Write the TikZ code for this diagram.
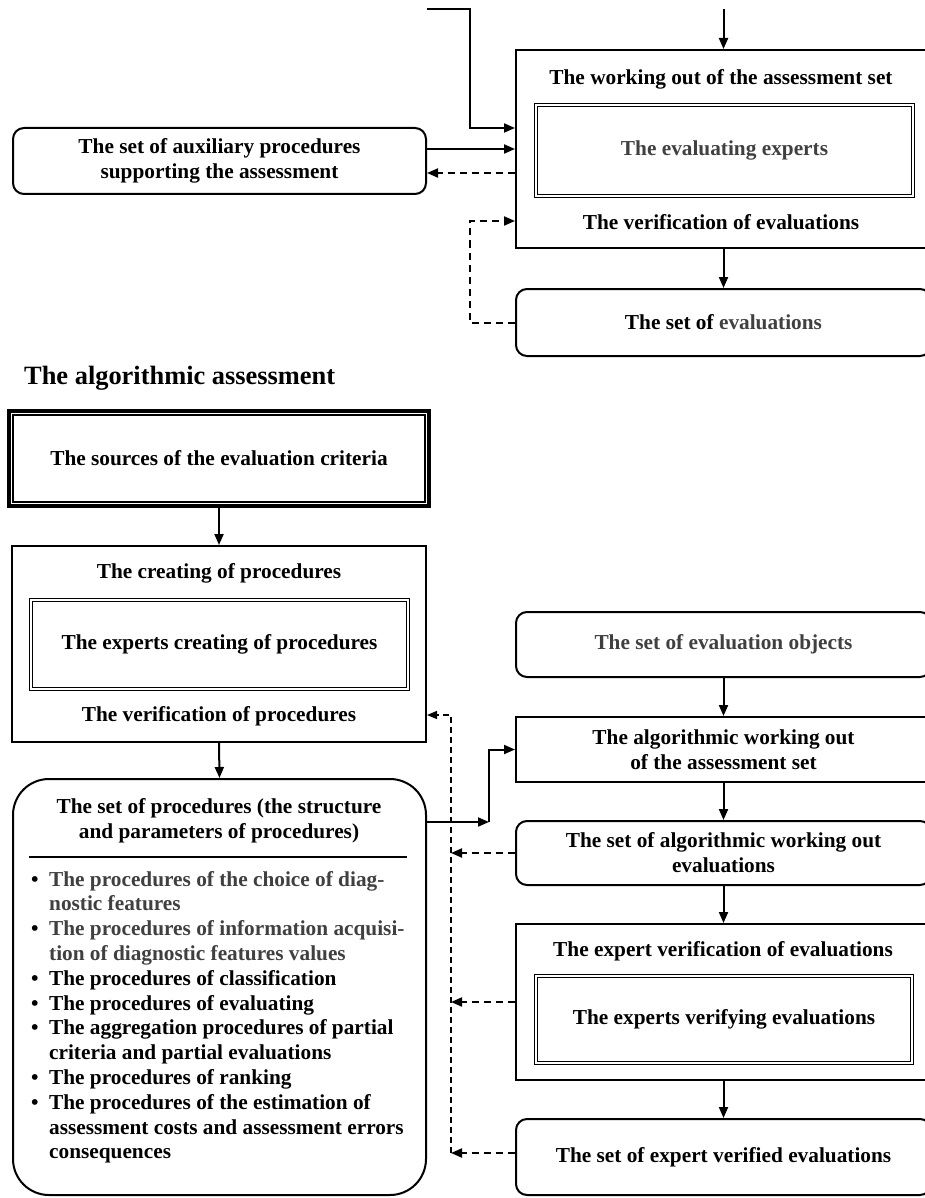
\documentclass[tikz,border=0pt]{standalone}
\usepackage{fontspec}
\setmainfont{Liberation Serif}
\usetikzlibrary{positioning,arrows.meta,calc}
\definecolor{softgray}{HTML}{404040}
\newcommand{\soft}[1]{\textcolor{softgray}{#1}}

\begin{document}
\begin{tikzpicture}[x=1pt, y=-1pt,
    every node/.style={font=\fontsize{21.3}{24.8}\selectfont\bfseries, inner sep=0pt, align=center},
    box/.style={draw, line width=2pt, minimum width=415pt},
    rbox/.style={box, rounded corners=11pt},
    expbox/.style={draw, line width=1.6pt, double, double distance=1.5pt},
    arr/.style={-{Triangle[length=11pt, width=9pt]}, line width=2pt},
    dsh/.style={arr, dash pattern=on 7pt off 5pt},
    spine/.style={-{Triangle[length=10pt, width=8pt]}, line width=1.3pt, dash pattern=on 6pt off 4pt}]
  \useasboundingbox (0,0) rectangle (925,1198);

  % Expert assessment (upper part)
  \node[box, minimum height=198pt] (workA) at (723.5,149) {};
  \node (workT) at (721,79) {The working out of the assessment set};
  \node[expbox, minimum width=377pt, minimum height=91pt, text=softgray] (evexp) at (724.5,150.5) {The evaluating experts};
  \node (workV) at (721,222) {The verification of evaluations};
  \node[rbox, minimum width=413pt, minimum height=66pt] (aux) at (219.5,161) {The set of auxiliary procedures\\supporting the assessment};
  \node[rbox, minimum height=67pt] (evals) at (723.5,322.5) {The set of \soft{evaluations}};

  % Inputs coming from above the picture
  \coordinate (feedA) at (427,9);
  \coordinate (feedB) at (723.5,9);
  \coordinate (inA) at ($(workA.west)+(0,-21)$);
  \coordinate (backA) at ($(workA.west)+(0,24)$);
  \coordinate (verA) at ($(workA.west)+(0,72)$);

  \draw[arr] (feedA) -| ($(inA)+(-45,0)$) -- (inA);
  \draw[arr] (feedB) -- (workA.north);
  \draw[arr] (aux.east |- workA.west) -- (workA.west);
  \draw[dsh] (backA) -- (aux.east |- backA);
  \draw[arr] (workA.south) -- (evals.north);
  \draw[dsh] (evals.west) -| ($(verA)+(-45,0)$) -- (verA);

  % The algorithmic assessment
  \node[anchor=west, font=\fontsize{26.4}{30}\selectfont\bfseries] (algT) at (24,378) {The algorithmic assessment};
  \node[draw, line width=4.5pt, minimum width=420pt, minimum height=95pt] (src) at (219,458.5) {The sources of the evaluation criteria};
  \draw[line width=1.6pt] ([shift={(6.5,6.5)}]src.north west) rectangle ([shift={(-6.5,-6.5)}]src.south east);

  \node[box, minimum width=414pt, minimum height=196pt] (crea) at (219,644) {};
  \node (creaT) at (219,573) {The creating of procedures};
  \node[expbox, minimum width=377pt, minimum height=89pt] (creaexp) at (219.5,644.5) {The experts creating of procedures};
  \node (creaV) at (219,716) {The verification of procedures};

  \node[box, rounded corners=36pt, minimum width=413pt, minimum height=416pt] (procs) at (219.5,987) {};
  \node (procT) at (219,820.5) {The set of procedures (the structure\\and parameters of procedures)};
  \draw[line width=1.8pt] (29,857) -- (407,857);
  \node[anchor=west] (procL) at (31,1017.5) {\begin{tabular}{@{}l@{\hspace{10.5pt}}l@{}}
    \textbullet & \soft{The procedures of the choice of diag-}\\
     & \soft{nostic features}\\
    \textbullet & \soft{The procedures of information acquisi-}\\
     & \soft{tion of diagnostic features values}\\
    \textbullet & The procedures of classification\\
    \textbullet & The procedures of evaluating\\
    \textbullet & The aggregation procedures of partial\\
     & criteria and partial evaluations\\
    \textbullet & The procedures of ranking\\
    \textbullet & The procedures of the estimation of\\
     & assessment costs and assessment errors\\
     & consequences
  \end{tabular}};

  \node[rbox, minimum height=65pt, text=softgray] (objs) at (723.5,644.5) {The set of evaluation objects};
  \node[box, minimum height=65pt] (algo) at (723.5,749.5) {The algorithmic working out\\of the assessment set};
  \node[rbox, minimum height=64pt] (algset) at (723.5,853) {The set of algorithmic working out\\evaluations};
  \node[box, minimum height=156pt] (vbox) at (723.5,1002) {};
  \node (vboxT) at (723,951) {The expert verification of evaluations};
  \node[expbox, minimum width=376pt, minimum height=87pt] (vexp) at (724,1019.5) {The experts verifying evaluations};
  \node[rbox, minimum height=76pt] (fin) at (723.5,1157) {The set of expert verified evaluations};

  % Flow of the algorithmic assessment
  \draw[arr] (src.south) -- (crea.north);
  \draw[arr] (crea.south) -- (procs.north);
  \coordinate (bendP) at (489,822);
  \draw[arr] (procs.east |- bendP) -- (bendP);
  \draw[arr] (bendP) |- (algo.west);
  \draw[arr] (objs.south) -- (algo.north);
  \draw[arr] (algo.south) -- (algset.north);
  \draw[arr] (algset.south) -- (vbox.north);
  \draw[arr] (vbox.south) -- (fin.north);

  % Feedback to the verification of procedures
  \coordinate (spineB) at (451,1153);
  \coordinate (spineT) at (451,715);
  \draw[spine] (spineB) -- (spineT) -- (spineT -| crea.east);
  \draw[dsh] (algset.west) -- (algset.west -| spineB);
  \draw[dsh] (vbox.west) -- (vbox.west -| spineB);
  \draw[dsh] (fin.west |- spineB) -- (spineB);
\end{tikzpicture}
\end{document}
